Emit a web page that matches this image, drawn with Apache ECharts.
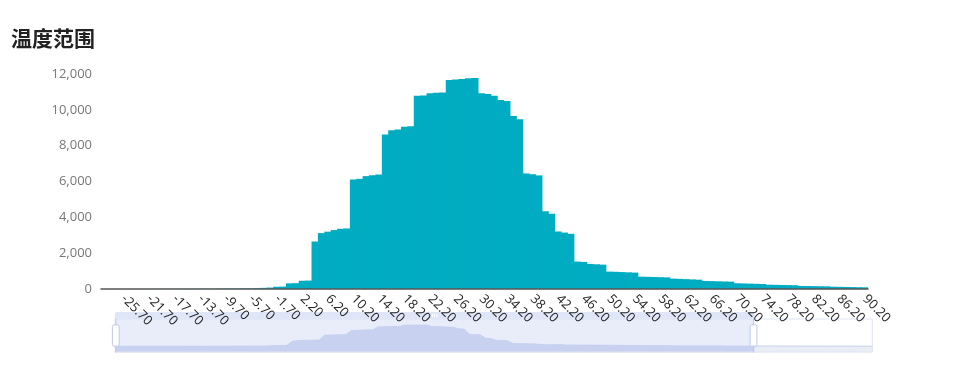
<!DOCTYPE html>
<html>
<head>
<meta charset="utf-8">
<script src="https://cdn.jsdelivr.net/npm/echarts@6/dist/echarts.min.js"></script>
<style>
html,body{margin:0;padding:0;background:#fff;}
#chart{width:965px;height:389px;}
</style>
</head>
<body>
<div id="chart"></div>
<script>
const titleText = '温度范围';

const categories = [
  '-28.70','-27.70','-26.70','-25.70','-24.70','-23.70','-22.70','-21.70','-20.70','-19.70',
  '-18.70','-17.70','-16.70','-15.70','-14.70','-13.70','-12.70','-11.70','-10.70','-9.70',
  '-8.70','-7.70','-6.70','-5.70','-4.70','-3.70','-2.70','-1.70','-0.70','0.20',
  '1.20','2.20','3.20','4.20','5.20','6.20','7.20','8.20','9.20','10.20',
  '11.20','12.20','13.20','14.20','15.20','16.20','17.20','18.20','19.20','20.20',
  '21.20','22.20','23.20','24.20','25.20','26.20','27.20','28.20','29.20','30.20',
  '31.20','32.20','33.20','34.20','35.20','36.20','37.20','38.20','39.20','40.20',
  '41.20','42.20','43.20','44.20','45.20','46.20','47.20','48.20','49.20','50.20',
  '51.20','52.20','53.20','54.20','55.20','56.20','57.20','58.20','59.20','60.20',
  '61.20','62.20','63.20','64.20','65.20','66.20','67.20','68.20','69.20','70.20',
  '71.20','72.20','73.20','74.20','75.20','76.20','77.20','78.20','79.20','80.20',
  '81.20','82.20','83.20','84.20','85.20','86.20','87.20','88.20','89.20','90.20',
  '91.20','92.20','93.20','94.20','95.20','96.20','97.20','98.20','99.20','100.20',
  '101.20','102.20','103.20','104.20','105.20','106.20','107.20','108.20','109.20','110.20',
  '111.20','112.20'
];

const counts = [
  1, 0, 2, 1, 3, 2, 4, 3, 5, 6,
  5, 8, 7, 10, 9, 12, 14, 13, 18, 20,
  22, 26, 30, 35, 45, 65, 80, 125, 135, 315,
  325, 460, 470, 2650, 3120, 3200, 3290, 3360, 3380, 6110,
  6150, 6300, 6350, 6390, 8630, 8860, 8900, 9060, 9080, 10780,
  10800, 10920, 10950, 10970, 11660, 11690, 11720, 11760, 11770, 10920,
  10880, 10780, 10550, 10500, 9660, 9470, 6450, 6400, 6340, 4340,
  4200, 3210, 3150, 3080, 1530, 1510, 1400, 1380, 1360, 970,
  960, 945, 930, 915, 690, 680, 670, 660, 650, 580,
  565, 550, 535, 520, 450, 440, 430, 420, 410, 320,
  310, 300, 290, 280, 240, 232, 225, 218, 210, 170,
  165, 160, 155, 150, 130, 122, 115, 108, 100, 95,
  90, 86, 82, 78, 74, 70, 66, 62, 58, 55,
  52, 49, 46, 43, 40, 37, 34, 31, 28, 25,
  22, 20
];

const yMin = 0, yMax = 12000, yStep = 2000;
const zoomStartIndex = 0, zoomEndIndex = 119;

const chart = echarts.init(document.getElementById('chart'), null, {renderer: 'canvas'});
chart.setOption({
  animation: false,
  title: {
    text: titleText,
    left: 6,
    top: 23,
    textStyle: {fontSize: 21, fontWeight: 'bold', color: '#222', fontFamily: 'Noto Sans CJK SC'}
  },
  grid: {left: 101, right: 97, top: 74, bottom: 100, containLabel: false},
  xAxis: {
    type: 'category',
    data: categories,
    z: 10,
    axisLine: {lineStyle: {color: '#555', width: 1.5}},
    axisTick: {show: false},
    axisLabel: {
      rotate: -45,
      interval: function (i) { return i % 4 === 3; },
      color: '#222',
      fontSize: 13,
      fontFamily: 'Open Sans',
      margin: 8
    }
  },
  yAxis: {
    type: 'value',
    min: yMin, max: yMax, interval: yStep,
    axisLine: {show: false},
    axisTick: {show: false},
    splitLine: {show: false},
    axisLabel: {color: '#777', fontSize: 13, fontFamily: 'Open Sans', margin: 9}
  },
  dataZoom: [{
    type: 'slider',
    xAxisIndex: 0,
    z: 2,
    startValue: zoomStartIndex,
    endValue: zoomEndIndex,
    left: 112,
    right: 95,
    bottom: 43,
    height: 34,
    showDetail: false,
    moveHandleStyle: {color: '#dfe6f7', opacity: 1},
    fillerColor: 'rgba(167,183,234,0.25)',
    dataBackground: {areaStyle: {color: '#d2dbee', opacity: 0.5}},
    selectedDataBackground: {areaStyle: {color: '#c9d3ef', opacity: 0.8}, lineStyle: {color: '#c0cdee'}}
  }],
  series: [{
    type: 'bar',
    data: counts,
    barWidth: 7.2,
    itemStyle: {color: '#00acc1', borderWidth: 0}
  }]
});
</script>
</body>
</html>
